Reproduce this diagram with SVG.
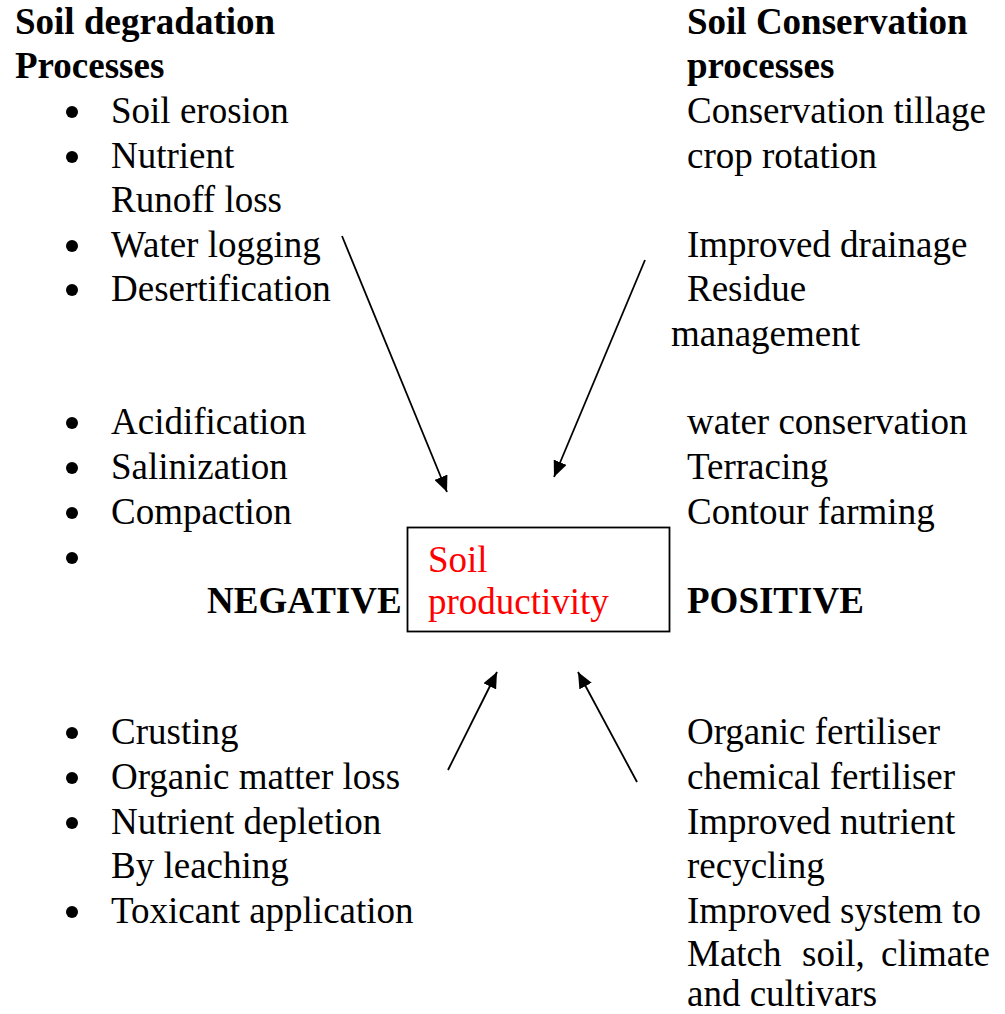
<svg xmlns="http://www.w3.org/2000/svg" width="1005" height="1014" viewBox="0 0 1005 1014">
<style>
text{font-family:"Liberation Serif","Times New Roman",serif;font-size:37px;fill:#000}
.b{font-weight:bold}
.r{fill:#ff0000}
.bul{fill:#000}
.conn line{stroke:#000;stroke-width:1.8;fill:none}
</style>
<defs>
<marker id="ah" markerUnits="userSpaceOnUse" markerWidth="18" markerHeight="14" refX="16" refY="7" orient="auto">
<path d="M0,0 L16,7 L0,14 z" fill="#000"/>
</marker>
</defs>
<rect width="1005" height="1014" fill="#fff"/>
<g id="neg-header"><text class="b" x="15" y="34">Soil degradation</text><text class="b" x="15" y="78">Processes</text></g>
<g id="pos-header"><text class="b" x="687" y="34">Soil Conservation</text><text class="b" x="687" y="78">processes</text></g>
<g id="neg-list-top">
<circle class="bul" cx="72" cy="112" r="6"/><text x="111" y="123">Soil erosion</text>
<circle class="bul" cx="72" cy="157" r="6"/><text x="111" y="168">Nutrient</text>
<text x="111" y="212">Runoff loss</text>
<circle class="bul" cx="72" cy="246" r="6"/><text x="111" y="257">Water logging</text>
<circle class="bul" cx="72" cy="290" r="6"/><text x="111" y="301">Desertification</text>
<circle class="bul" cx="72" cy="423" r="6"/><text x="111" y="434">Acidification</text>
<circle class="bul" cx="72" cy="468" r="6"/><text x="111" y="479">Salinization</text>
<circle class="bul" cx="72" cy="513" r="6"/><text x="111" y="524">Compaction</text>
<circle class="bul" cx="72" cy="558" r="6"/>
</g>
<g id="pos-list-top">
<text x="687" y="123">Conservation tillage</text>
<text x="687" y="168">crop rotation</text>
<text x="687" y="257">Improved drainage</text>
<text x="687" y="301">Residue</text>
<text x="671" y="346">management</text>
<text x="687" y="434">water conservation</text>
<text x="687" y="479">Terracing</text>
<text x="687" y="524">Contour farming</text>
</g>
<g id="negative"><text class="b" x="207" y="613">NEGATIVE</text></g>
<g id="positive"><text class="b" x="687" y="613">POSITIVE</text></g>
<g id="soil-productivity">
<rect x="407.5" y="527.5" width="262" height="104" fill="none" stroke="#000" stroke-width="1.8"/>
<text class="r" x="428" y="572">Soil</text>
<text class="r" x="428" y="614">productivity</text>
</g>
<g id="neg-list-bottom">
<circle class="bul" cx="72" cy="733" r="6"/><text x="111" y="744">Crusting</text>
<circle class="bul" cx="72" cy="778" r="6"/><text x="111" y="789">Organic matter loss</text>
<circle class="bul" cx="72" cy="823" r="6"/><text x="111" y="834">Nutrient depletion</text>
<text x="111" y="878">By leaching</text>
<circle class="bul" cx="72" cy="912" r="6"/><text x="111" y="923">Toxicant application</text>
</g>
<g id="pos-list-bottom">
<text x="687" y="744">Organic fertiliser</text>
<text x="687" y="789">chemical fertiliser</text>
<text x="687" y="834">Improved nutrient</text>
<text x="687" y="878">recycling</text>
<text x="687" y="923">Improved system to</text>
<text y="966"><tspan x="687">Match</tspan><tspan x="802">soil,</tspan><tspan x="881">climate</tspan></text>
<text x="687" y="1006">and cultivars</text>
</g>
<g id="connectors" class="conn">
<line x1="342" y1="236" x2="447" y2="492" marker-end="url(#ah)"/>
<line x1="645" y1="260" x2="554" y2="477" marker-end="url(#ah)"/>
<line x1="448" y1="770" x2="497" y2="672" marker-end="url(#ah)"/>
<line x1="637" y1="782" x2="578" y2="672" marker-end="url(#ah)"/>
</g>
</svg>
